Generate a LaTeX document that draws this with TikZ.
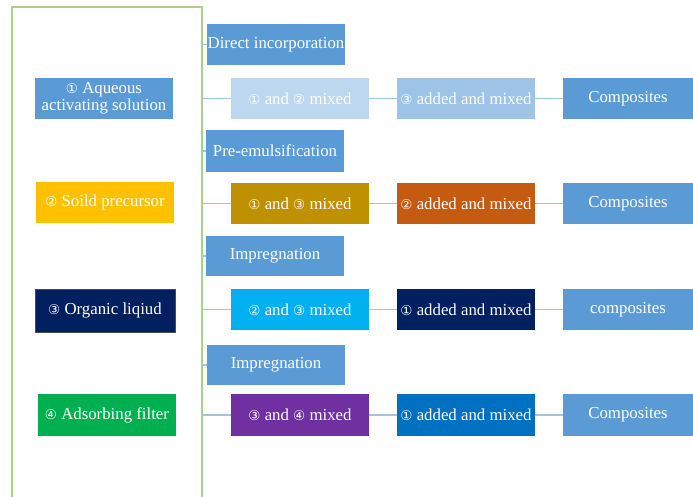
\documentclass[tikz,border=0pt]{standalone}
\usepackage{fontspec}
\setmainfont{Liberation Serif}
\newfontfamily\circfont{DejaVu Sans}
\newcommand{\cn}[1]{{\circfont\fontsize{13.5}{13.5}\selectfont #1}}
\definecolor{midblue}{HTML}{5B9BD5}
\definecolor{lightA}{HTML}{BDD7EE}
\definecolor{lightB}{HTML}{9DC3E6}
\definecolor{goldA}{HTML}{BF9000}
\definecolor{rustA}{HTML}{C55A11}
\definecolor{cyanA}{HTML}{00B0F0}
\definecolor{navyA}{HTML}{002060}
\definecolor{purpA}{HTML}{7030A0}
\definecolor{blueA}{HTML}{0070C0}
\definecolor{yellA}{HTML}{FFC000}
\definecolor{greenA}{HTML}{00B050}
\definecolor{frameG}{HTML}{A9D18E}
\definecolor{lineC}{HTML}{9DC3E6}
\begin{document}
\begin{tikzpicture}[x=1pt,y=-1pt,
  box/.style={rectangle, inner sep=0pt, text=white, align=center,
    font=\fontsize{16.8}{17}\selectfont, minimum width=138pt, minimum height=41pt},
  conn/.style={draw=lineC, line width=1.8pt}]
\useasboundingbox (0,0) rectangle (693,497);
\clip (0,0) rectangle (693,497);
\draw[frameG, line width=1.3pt] (12,7) rectangle (202,520);
% left column
\node[box, fill=midblue] (aq) at (104,98.5) {\cn{①} Aqueous\\activating solution};
\node[box, fill=yellA] (so) at (105,202.5) {\cn{②} Soild precursor};
\node[box, fill=navyA, draw=black!70, line width=0.6pt, minimum height=43pt, minimum width=140pt] (or) at (105,310.5) {\cn{③} Organic liqiud};
\node[box, fill=greenA, minimum height=42pt] (ad) at (107,415) {\cn{④} Adsorbing filter};
% methods
\node[box, fill=midblue] (m1) at (276,44.5) {Direct incorporation};
\node[box, fill=midblue, minimum height=42pt] (m2) at (275,151) {Pre-emulsification};
\node[box, fill=midblue, minimum height=40pt] (m3) at (275,256) {Impregnation};
\node[box, fill=midblue, minimum height=40pt] (m4) at (276,365) {Impregnation};
% step 1
\node[box, fill=lightA] (a1) at (300,98.5) {\cn{①} and \cn{②} mixed};
\node[box, fill=goldA] (b1) at (300,203.5) {\cn{①} and \cn{③} mixed};
\node[box, fill=cyanA] (c1) at (300,309.5) {\cn{②} and \cn{③} mixed};
\node[box, fill=purpA, minimum height=42pt] (d1) at (300,415) {\cn{③} and \cn{④} mixed};
% step 2
\node[box, fill=lightB] (a2) at (466,98.5) {\cn{③} added and mixed};
\node[box, fill=rustA] (b2) at (466,203.5) {\cn{②} added and mixed};
\node[box, fill=navyA] (c2) at (466,309.5) {\cn{①} added and mixed};
\node[box, fill=blueA, minimum height=42pt] (d2) at (466,415) {\cn{①} added and mixed};
% composites
\node[box, fill=midblue, minimum width=130pt] (a3) at (628,98.5) {Composites};
\node[box, fill=midblue, minimum width=130pt] (b3) at (628,203.5) {Composites};
\node[box, fill=midblue, minimum width=130pt] (c3) at (628,309.5) {composites};
\node[box, fill=midblue, minimum width=130pt, minimum height=42pt] (d3) at (628,415) {Composites};
% frame anchor coordinates
\coordinate (ga) at (202,98.5);
\coordinate (gb) at (202,203.5);
\coordinate (gc) at (202,309.5);
\coordinate (gd) at (202,415);
\coordinate (t1) at (202,44.5);
\coordinate (t2) at (202,151);
\coordinate (t3) at (202,256);
\coordinate (t4) at (202,365);
% connectors
\foreach \r in {a,b,c,d}{
  \draw[conn] (g\r) -- (\r1.west);
  \draw[conn] (\r1.east) -- (\r2.west);
  \draw[conn] (\r2.east) -- (\r3.west);
}
\foreach \i in {1,2,3,4}{
  \draw[conn, line width=1.2pt] (t\i) -- (m\i.west);
}
\end{tikzpicture}
\end{document}
